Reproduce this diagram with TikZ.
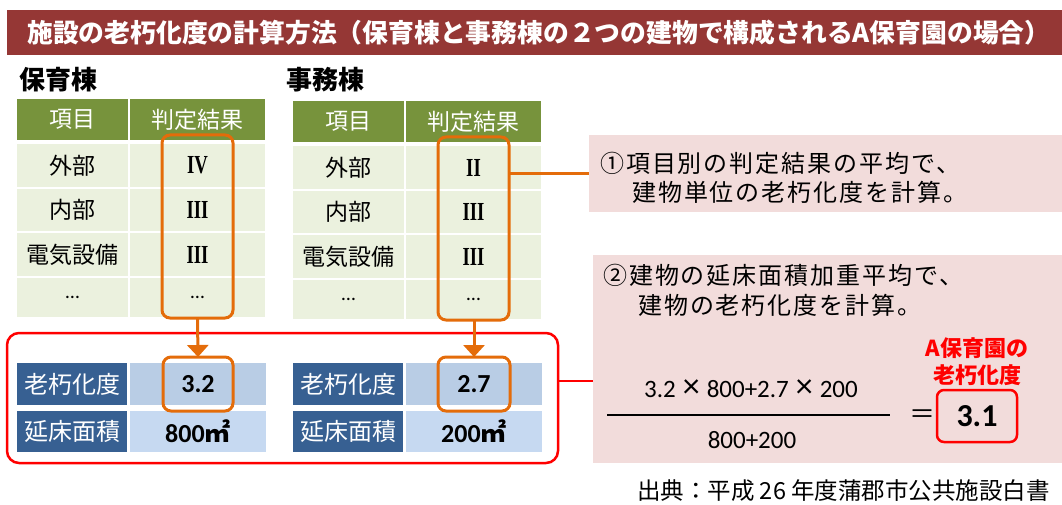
\documentclass[tikz,border=0pt]{standalone}
\usepackage{fontspec}
\usepackage{graphicx}
\setmainfont{Noto Sans CJK JP}
\newfontfamily\jp{Noto Sans CJK JP}
\newfontfamily\jpsp{Noto Sans CJK JP}[LetterSpace=8]
\newfontfamily\carl{Carlito}
\newfontfamily\lserif{Liberation Serif}
\usetikzlibrary{arrows.meta}
\definecolor{titlered}{HTML}{953735}
\definecolor{hgreen}{HTML}{77933C}
\definecolor{lgreen}{HTML}{EBF1DE}
\definecolor{dblue}{HTML}{376092}
\definecolor{lblueA}{HTML}{B9CDE5}
\definecolor{lblueB}{HTML}{C6D9F1}
\definecolor{orng}{HTML}{E46C0A}
\definecolor{pinkbg}{HTML}{F2DCDB}
\newcommand\fsz[1]{\fontsize{#1}{#1}\selectfont}
\newcommand\rn[1]{{\lserif\bfseries\fsz{26}\scalebox{0.72}[1]{#1}}}
\newcommand\mul{\hspace{7pt}{\fsz{34}×}\hspace{7pt}}
\tikzset{
  cell/.style 2 args={minimum width=#1pt, minimum height=#2pt, inner sep=0pt, outer sep=0pt, anchor=center},
  hdr/.style={fill=hgreen, text=white, font=\jp\fsz{23}},
  row/.style={fill=lgreen, text=black, font=\jp\fsz{23}},
  blab/.style={fill=dblue, text=white, font=\jp\fsz{24}},
  bvalA/.style={fill=lblueA, text=black, font=\carl\bfseries\fsz{26}},
  bvalB/.style={fill=lblueB, text=black, font=\carl\bfseries\fsz{26}},
  obox/.style={draw=orng, line width=3pt, rounded corners=8pt},
  oarrow/.style={draw=orng, line width=3pt, -{Triangle[width=21pt,length=12pt]}},
  pinkbox/.style={fill=pinkbg},
  pinktext/.style={anchor=west, inner sep=0pt, font=\jpsp\fsz{24}},
}
\begin{document}
\begin{tikzpicture}[x=1pt,y=-1pt]
\useasboundingbox (0,0) rectangle (1062,505);
% title
\node[cell={1055}{45}, fill=titlered] (title) at (534.5,32.5) {};
\node[anchor=west, inner sep=0pt, text=white, font=\jp\bfseries\fsz{25.8}] (titletext) at (27,32.5)
  {施設の老朽化度の計算方法（保育棟と事務棟の２つの建物で構成されるA保育園の場合）};
% headings
\node[anchor=west, inner sep=0pt, font=\jp\bfseries\fsz{26}] (h1) at (19,80) {保育棟};
\node[anchor=west, inner sep=0pt, font=\jp\bfseries\fsz{26}] (h2) at (286,80) {事務棟};
% left table
\node[cell={111}{41}, hdr] (L00) at (72.5,119.5) {項目};
\node[cell={135}{41}, hdr] (L01) at (197.5,119.5) {判定結果};
\node[cell={111}{43}, row] (L10) at (72.5,165.5) {外部};
\node[cell={135}{43}, row] (L11) at (197.5,165.5) {\rn{IV}};
\node[cell={111}{42}, row] (L20) at (72.5,210) {内部};
\node[cell={135}{42}, row] (L21) at (197.5,210) {\rn{III}};
\node[cell={111}{43}, row] (L30) at (72.5,254.5) {電気設備};
\node[cell={135}{43}, row] (L31) at (197.5,254.5) {\rn{III}};
\node[cell={111}{39}, row] (L40) at (72.5,297.5) {\carl\fsz{20}…};
\node[cell={135}{39}, row] (L41) at (197.5,297.5) {\carl\fsz{20}…};
% right table
\node[cell={111}{41}, hdr] (R00) at (348.5,121.5) {項目};
\node[cell={135}{41}, hdr] (R01) at (473.5,121.5) {判定結果};
\node[cell={111}{43}, row] (R10) at (348.5,167.5) {外部};
\node[cell={135}{43}, row] (R11) at (473.5,167.5) {\rn{II}};
\node[cell={111}{42}, row] (R20) at (348.5,212) {内部};
\node[cell={135}{42}, row] (R21) at (473.5,212) {\rn{III}};
\node[cell={111}{43}, row] (R30) at (348.5,256.5) {電気設備};
\node[cell={135}{43}, row] (R31) at (473.5,256.5) {\rn{III}};
\node[cell={111}{39}, row] (R40) at (348.5,299.5) {\carl\fsz{20}…};
\node[cell={135}{39}, row] (R41) at (473.5,299.5) {\carl\fsz{20}…};
% orange column boxes
\node[cell={71}{183}, obox] (ob1) at (197.5,226.5) {};
\node[cell={71}{183}, obox] (ob2) at (473.5,228.5) {};
% red box
\node[cell={551}{130}, draw=red, line width=2.5pt, rounded corners=12pt] (rb) at (282.5,398) {};
% blue tables
\node[cell={110}{42}, blab] (B10) at (72,384) {老朽化度};
\node[cell={136}{42}, bvalA] (B11) at (198,384) {3.2};
\node[cell={110}{41}, blab] (B20) at (72,431.5) {延床面積};
\node[cell={136}{41}, bvalB] (B21) at (198,431.5) {800{\jp\bfseries ㎡}};
\node[cell={110}{42}, blab] (C10) at (348,384) {老朽化度};
\node[cell={136}{42}, bvalA] (C11) at (474,384) {2.7};
\node[cell={110}{41}, blab] (C20) at (348,431.5) {延床面積};
\node[cell={136}{41}, bvalB] (C21) at (474,431.5) {200{\jp\bfseries ㎡}};
% orange value boxes
\node[cell={70}{54}, obox] (vb1) at (198,384) {};
\node[cell={72}{54}, obox] (vb2) at (474,384) {};
% arrows
\draw[oarrow] (ob1.south) -- (vb1.north);
\draw[oarrow] (ob2.south -| vb2.north) -- (vb2.north);
% pink boxes
\node[cell={473}{77}, pinkbox] (pb1) at (825.5,173.5) {};
\node[cell={469}{208}, pinkbox] (pb2) at (827.5,359) {};
\node[pinktext] (t1a) at (600,163) {①項目別の判定結果の平均で、};
\node[pinktext] (t1b) at (632,192) {建物単位の老朽化度を計算。};
\node[pinktext] (t2a) at (603,275) {②建物の延床面積加重平均で、};
\node[pinktext] (t2b) at (638,305) {建物の老朽化度を計算。};
% connectors
\draw[orng, line width=3pt] (ob2.east |- pb1.west) -- (pb1.west);
\coordinate (ry) at (0,381);
\draw[red, line width=2.5pt] (rb.east |- ry) -- (pb2.west |- ry);
% formula
\node[inner sep=0pt, font=\carl\fsz{25}] (num) at (751,389) {3.2\mul800+2.7\mul200};
\node[inner sep=0pt, font=\carl\fsz{25}] (den) at (752,440) {800+200};
\coordinate (fl) at (607,415);
\coordinate (fr) at (890,415);
\draw[line width=1.5pt] (fl) -- (fr);
\node[inner sep=0pt, font=\jp\fsz{26}] (eq) at (922,417) {＝};
\node[cell={80}{52}, draw=red, line width=2.5pt, rounded corners=7pt, font=\carl\bfseries\fsz{32}] (res) at (977,416) {3.1};
\node[inner sep=0pt, text=red, font=\jp\bfseries\fsz{22}] (rl1) at (977,348) {A保育園の};
\node[inner sep=0pt, text=red, font=\jp\bfseries\fsz{22}] (rl2) at (977,375) {老朽化度};
% source
\node[anchor=east, inner sep=0pt, font=\jp\fsz{23.5}] (src) at (1050,491) {出典：平成 26 年度蒲郡市公共施設白書};
\end{tikzpicture}
\end{document}
